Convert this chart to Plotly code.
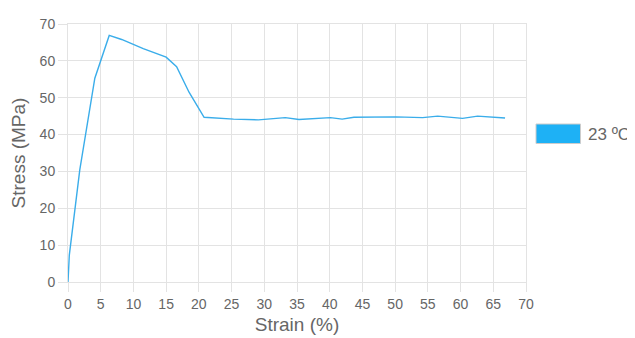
import plotly.graph_objects as go

strain = [0, 0.2, 1.8, 4.1, 6.3, 8.2, 11.5, 15.0, 16.6, 18.5, 20.8, 25.3, 29.1, 33.2, 35.3, 38.6,
          40.1, 41.9, 43.7, 50.1, 54.2, 56.5, 60.3, 62.6, 64.6, 66.8]
stress = [0, 7.3, 30.4, 55.3, 66.9, 65.8, 63.3, 61.0, 58.4, 51.5, 44.7, 44.2, 44.0, 44.6, 44.1, 44.4,
          44.6, 44.2, 44.7, 44.8, 44.6, 45.0, 44.4, 45.0, 44.8, 44.5]
series_name = "23 ºC"
x_ticks = list(range(0, 71, 5))
y_ticks = list(range(0, 71, 10))

line_color = "#3AADEA"
fill_color = "#1EB1F5"
grid = "#e3e3e3"
font_color = "#666666"
ff = "Liberation Sans, Arial, sans-serif"

# page body has an 8px margin; figure is sized so the plot lands where the reference has it
L, T, R, B = 60, 16, 109, 56
W, H = 627, 330
pw, ph = W - L - R, H - T - B
px0, py0 = 68, 24  # plot area origin in page pixels


def fx(x):
    return (x - px0) / pw


def fy(y):
    return (py0 + ph - y) / ph


fig = go.Figure()
fig.add_trace(go.Scatter(x=strain, y=stress, mode="lines", name=series_name,
                         line=dict(color=line_color, width=1.4), showlegend=False))

fig.update_layout(
    width=W, height=H,
    margin=dict(l=L, r=R, t=T, b=B),
    paper_bgcolor="white", plot_bgcolor="white",
    font=dict(family=ff, color=font_color, size=14),
    xaxis=dict(range=[0, 70], tickvals=x_ticks, showgrid=True, gridcolor=grid, gridwidth=1,
               zeroline=False, showline=True, mirror=True, linecolor=grid, automargin=False,
               ticks="outside", ticklen=9, tickcolor=grid, ticklabelstandoff=0,
               tickfont=dict(size=14, color=font_color),
               title=dict(text="Strain (%)", font=dict(size=19, color=font_color), standoff=6)),
    yaxis=dict(range=[0, 70], tickvals=y_ticks, showgrid=True, gridcolor=grid, gridwidth=1,
               zeroline=False, showline=True, mirror=True, linecolor=grid, automargin=False,
               ticks="outside", ticklen=9, tickcolor=grid, ticklabelstandoff=0,
               tickfont=dict(size=14, color=font_color),
               title=dict(text="Stress (MPa)", font=dict(size=19, color=font_color), standoff=15)),
    shapes=[dict(type="rect", xref="paper", yref="paper",
                 x0=fx(536), x1=fx(580.5), y0=fy(143.5), y1=fy(124),
                 fillcolor=fill_color, line=dict(color="#cccccc", width=1))],
    annotations=[dict(text=series_name, xref="paper", yref="paper",
                      x=fx(586), y=fy(134), xanchor="left", yanchor="middle",
                      showarrow=False, font=dict(size=17, color=font_color))],
)

fig.write_html("out.html")
